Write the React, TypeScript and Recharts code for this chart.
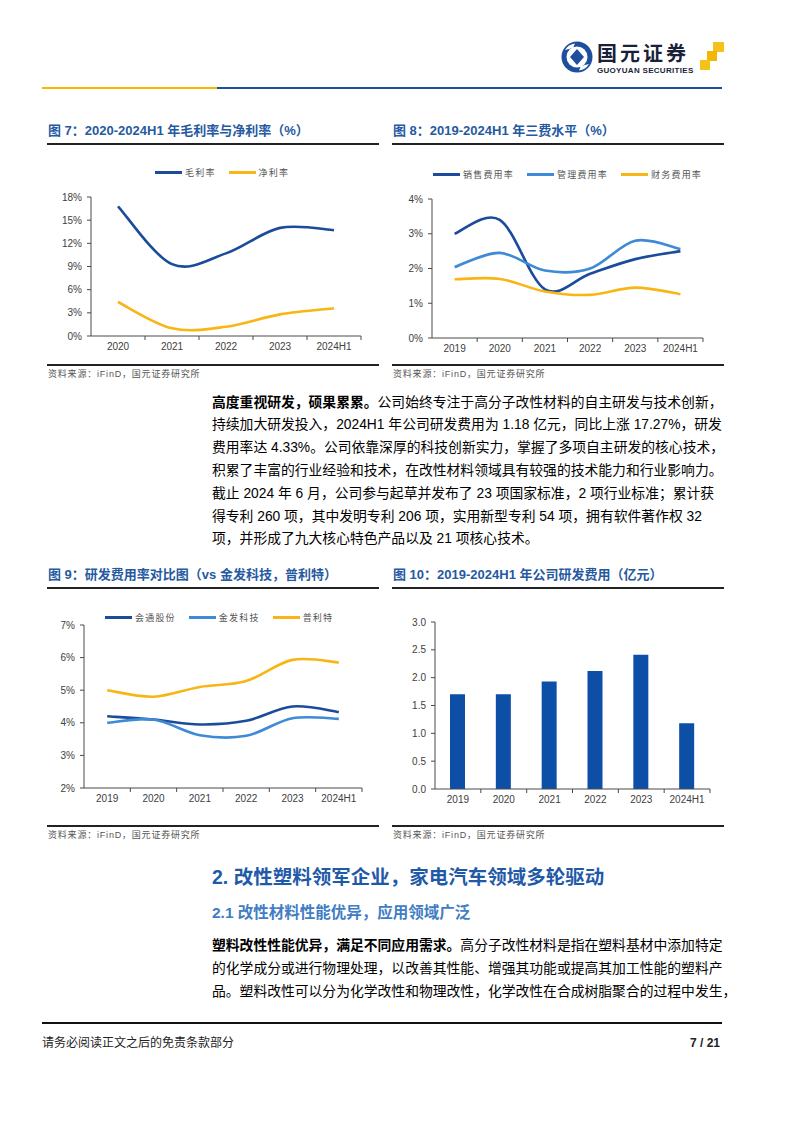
import { Bar, BarChart, Line, LineChart, XAxis, YAxis } from "recharts";

// 图7 毛利率 / 净利率
const MARGIN_YEARS = ["2020", "2021", "2022", "2023", "2024H1"];
const GROSS_MARGIN = [16.8, 9.3, 10.7, 14.0, 13.7];
const NET_MARGIN = [4.4, 1.0, 1.2, 2.8, 3.6];
const MARGIN_NAMES = ["毛利率", "净利率"];
const MARGIN_TICKS = [0, 3, 6, 9, 12, 15, 18];

// 图8 三费
const YEARS = ["2019", "2020", "2021", "2022", "2023", "2024H1"];
const SALES_RATE = [3.0, 3.4, 1.4, 1.85, 2.27, 2.5];
const ADMIN_RATE = [2.04, 2.45, 1.94, 2.0, 2.8, 2.56];
const FINANCE_RATE = [1.69, 1.7, 1.34, 1.24, 1.45, 1.26];
const FEE_NAMES = ["销售费用率", "管理费用率", "财务费用率"];
const FEE_TICKS = [0, 1, 2, 3, 4];

// 图9 研发费用率对比
const HUITONG_RD = [4.2, 4.1, 3.95, 4.06, 4.5, 4.33];
const KINGFA_RD = [4.0, 4.1, 3.62, 3.6, 4.14, 4.12];
const PRET_RD = [5.0, 4.8, 5.1, 5.28, 5.93, 5.85];
const PEER_NAMES = ["会通股份", "金发科技", "普利特"];
const RD_RATE_TICKS = [2, 3, 4, 5, 6, 7];

// 图10 研发费用（亿元）
const RD_EXPENSE = [1.7, 1.7, 1.93, 2.12, 2.41, 1.18];
const RD_EXPENSE_TICKS = [0, 0.5, 1, 1.5, 2, 2.5, 3];

const DARK = "#1b4c9c";
const MID = "#3d8ad6";
const GOLD = "#f7b614";
const BAR = "#0d4ea6";
const AXIS = "#4a4a4a";
const TITLE = "#26599f";
const Y_W = 40;
const FONT = '"Liberation Sans", Arial, "Noto Sans CJK SC", sans-serif';

// Excel-like smoothed line (Catmull-Rom through the points)
function smoothCurve(context: any) {
  let pts: number[][] = [];
  return {
    areaStart() {},
    areaEnd() {},
    lineStart() {
      pts = [];
    },
    point(x: number, y: number) {
      pts.push([+x, +y]);
    },
    lineEnd() {
      const n = pts.length;
      if (!n) return;
      context.moveTo(pts[0][0], pts[0][1]);
      for (let i = 0; i < n - 1; i++) {
        const p0 = pts[Math.max(i - 1, 0)];
        const p1 = pts[i];
        const p2 = pts[i + 1];
        const p3 = pts[Math.min(i + 2, n - 1)];
        context.bezierCurveTo(
          p1[0] + (p2[0] - p0[0]) / 6,
          p1[1] + (p2[1] - p0[1]) / 6,
          p2[0] - (p3[0] - p1[0]) / 6,
          p2[1] - (p3[1] - p1[1]) / 6,
          p2[0],
          p2[1]
        );
      }
    },
  };
}

function BandTick({ x, y, payload, band }: any) {
  return (
    <g>
      <line x1={x + band / 2} x2={x + band / 2} y1={y} y2={y + 4} stroke={AXIS} />
      <text x={x} y={y + 7} dy="0.71em" textAnchor="middle" fontSize={10} fill="#404040" fontFamily={FONT}>
        {payload.value}
      </text>
    </g>
  );
}

type Box = { left: number; top: number; width: number; height: number; margin: { top: number; right: number; bottom: number; left: number } };
type Series = { name: string; values: number[]; color: string };

function LegendRow({ items, left, top }: { items: Series[]; left: number; top: number }) {
  return (
    <div style={{ position: "absolute", left, top: top - 7, height: 14, display: "flex", alignItems: "center", gap: 13 }}>
      {items.map((s) => (
        <div key={s.name} style={{ display: "flex", alignItems: "center" }}>
          <span style={{ width: 27, height: 3, background: s.color, marginRight: 3 }} />
          <span style={{ fontSize: 9, color: "#555", letterSpacing: 1.2, fontFamily: FONT }}>{s.name}</span>
        </div>
      ))}
    </div>
  );
}

function TrendChart({ box, categories, series, domain, ticks, format }: { box: Box; categories: string[]; series: Series[]; domain: number[]; ticks: number[]; format: (v: number) => string }) {
  const band = (box.width - box.margin.left - box.margin.right - Y_W) / categories.length;
  const data = categories.map((cat, i) => {
    const row: Record<string, string | number> = { cat };
    series.forEach((s, k) => (row["s" + k] = s.values[i]));
    return row;
  });
  return (
    <div style={{ position: "absolute", left: box.left, top: box.top }}>
      <LineChart width={box.width} height={box.height} data={data} margin={box.margin}>
        <XAxis
          dataKey="cat"
          padding={{ left: band / 2, right: band / 2 }}
          interval={0}
          height={20}
          tickSize={0}
          tickMargin={0}
          axisLine={{ stroke: AXIS }}
          tickLine={false}
          tick={(p: any) => <BandTick x={p.x} y={p.y} payload={p.payload} band={band} />}
        />
        <YAxis
          width={Y_W}
          domain={domain}
          ticks={ticks}
          interval={0}
          tickFormatter={format}
          tickSize={4}
          tickMargin={5}
          axisLine={{ stroke: AXIS }}
          tickLine={{ stroke: AXIS }}
          tick={{ fontSize: 10, fill: "#404040", fontFamily: FONT }}
        />
        {series.map((s, k) => (
          <Line key={s.name} dataKey={"s" + k} type={smoothCurve as any} stroke={s.color} strokeWidth={2.6} dot={false} activeDot={false} isAnimationActive={false} />
        ))}
      </LineChart>
    </div>
  );
}

function RdBarChart() {
  const box: Box = { left: 385, top: 590, width: 340, height: 235, margin: { top: 32, right: 15, bottom: 16, left: 10 } };
  const band = (box.width - box.margin.left - box.margin.right - Y_W) / YEARS.length;
  const data = YEARS.map((year, i) => ({ year, value: RD_EXPENSE[i] }));
  return (
    <div style={{ position: "absolute", left: box.left, top: box.top }}>
      <BarChart width={box.width} height={box.height} data={data} margin={box.margin}>
        <XAxis
          dataKey="year"
          interval={0}
          height={20}
          tickSize={0}
          tickMargin={0}
          axisLine={{ stroke: AXIS }}
          tickLine={false}
          tick={(p: any) => <BandTick x={p.x} y={p.y} payload={p.payload} band={band} />}
        />
        <YAxis
          width={Y_W}
          domain={[0, 3]}
          ticks={RD_EXPENSE_TICKS}
          interval={0}
          tickFormatter={(v: number) => v.toFixed(1)}
          tickSize={4}
          tickMargin={5}
          axisLine={{ stroke: AXIS }}
          tickLine={{ stroke: AXIS }}
          tick={{ fontSize: 10, fill: "#404040", fontFamily: FONT }}
        />
        <Bar dataKey="value" fill={BAR} barSize={15} isAnimationActive={false} />
      </BarChart>
    </div>
  );
}

function FigTitle({ text, left, top, width }: { text: string; left: number; top: number; width: number }) {
  return (
    <>
      <div style={{ position: "absolute", left, top, fontSize: 13, fontWeight: 700, color: TITLE, fontFamily: FONT, lineHeight: "18px", whiteSpace: "nowrap" }}>
        {text}
      </div>
      <div style={{ position: "absolute", left: left - 1, top: top + 21, width, height: 1.5, background: "#222" }} />
    </>
  );
}

function Source({ left, top, width }: { left: number; top: number; width: number }) {
  return (
    <>
      <div style={{ position: "absolute", left: left - 1, top, width, height: 1.5, background: "#222" }} />
      <div style={{ position: "absolute", left, top: top + 4, fontSize: 9, color: "#555", letterSpacing: 0.8, fontFamily: FONT, lineHeight: "12px", whiteSpace: "nowrap" }}>
        资料来源：iFinD，国元证券研究所
      </div>
    </>
  );
}

const PARA1 = [
  "持续加大研发投入，2024H1 年公司研发费用为 1.18 亿元，同比上涨 17.27%，研发",
  "费用率达 4.33%。公司依靠深厚的科技创新实力，掌握了多项自主研发的核心技术，",
  "积累了丰富的行业经验和技术，在改性材料领域具有较强的技术能力和行业影响力。",
  "截止 2024 年 6 月，公司参与起草并发布了 23 项国家标准，2 项行业标准；累计获",
  "得专利 260 项，其中发明专利 206 项，实用新型专利 54 项，拥有软件著作权 32",
];
const PARA2 = [
  "的化学成分或进行物理处理，以改善其性能、增强其功能或提高其加工性能的塑料产",
  "品。塑料改性可以分为化学改性和物理改性，化学改性在合成树脂聚合的过程中发生，",
];

const lineStyle = { height: 22.8, lineHeight: "22.8px", whiteSpace: "nowrap" as const };

export default function App() {
  const marginSeries: Series[] = [
    { name: MARGIN_NAMES[0], values: GROSS_MARGIN, color: DARK },
    { name: MARGIN_NAMES[1], values: NET_MARGIN, color: GOLD },
  ];
  const feeSeries: Series[] = [
    { name: FEE_NAMES[0], values: SALES_RATE, color: DARK },
    { name: FEE_NAMES[1], values: ADMIN_RATE, color: MID },
    { name: FEE_NAMES[2], values: FINANCE_RATE, color: GOLD },
  ];
  const peerSeries: Series[] = [
    { name: PEER_NAMES[0], values: HUITONG_RD, color: DARK },
    { name: PEER_NAMES[1], values: KINGFA_RD, color: MID },
    { name: PEER_NAMES[2], values: PRET_RD, color: GOLD },
  ];
  const pct = (v: number) => `${v}%`;

  return (
    <div style={{ position: "absolute", left: 0, top: 0, width: 802, height: 1133, background: "#fff", fontFamily: FONT, overflow: "hidden" }}>
      {/* header logo */}
      <svg style={{ position: "absolute", left: 560, top: 40 }} width={34} height={34} viewBox="0 0 34 34">
        <circle cx={17} cy={17} r={15.5} fill="#1d4f9f" />
        <circle cx={17} cy={17} r={10.5} fill="#fff" />
        <path d="M17 9 L24 17 L17 25 L10 17 Z" fill="#1d4f9f" />
        <path d="M5 10 A13 13 0 0 1 15 3.5 L13 8 Z" fill="#fff" />
        <path d="M29 24 A13 13 0 0 1 19 30.5 L21 26 Z" fill="#fff" />
      </svg>
      <div style={{ position: "absolute", left: 597, top: 42, fontSize: 20, fontWeight: 700, color: "#1a1f3a", letterSpacing: 3, lineHeight: "22px", fontFamily: '"Noto Sans CJK SC", sans-serif', whiteSpace: "nowrap" }}>
        国元证券
      </div>
      <div style={{ position: "absolute", left: 597, top: 66, fontSize: 8, fontWeight: 700, color: "#1a1f3a", lineHeight: "9px", letterSpacing: 0.3, whiteSpace: "nowrap" }}>
        GUOYUAN SECURITIES
      </div>
      <svg style={{ position: "absolute", left: 698, top: 40 }} width={28} height={32}>
        <rect x={15} y={2} width={11} height={10} fill="#f5c21b" />
        <rect x={9} y={11} width={10} height={10} fill="#f2b705" />
        <rect x={2} y={20} width={10} height={10} fill="#f5c21b" />
      </svg>
      <div style={{ position: "absolute", left: 42, top: 87, width: 175, height: 2, background: "#f5b800" }} />
      <div style={{ position: "absolute", left: 217, top: 87, width: 505, height: 2, background: "#1d4f9f" }} />

      {/* figure 7 */}
      <FigTitle text="图 7：2020-2024H1 年毛利率与净利率（%）" left={48} top={122} width={332} />
      <LegendRow items={marginSeries} left={155} top={172} />
      <TrendChart
        box={{ left: 40, top: 150, width: 340, height: 215, margin: { top: 47, right: 19, bottom: 9, left: 11 } }}
        categories={MARGIN_YEARS}
        series={marginSeries}
        domain={[0, 18]}
        ticks={MARGIN_TICKS}
        format={pct}
      />
      <Source left={48} top={364} width={332} />

      {/* figure 8 */}
      <FigTitle text="图 8：2019-2024H1 年三费水平（%）" left={393} top={122} width={332} />
      <LegendRow items={feeSeries} left={433} top={174} />
      <TrendChart
        box={{ left: 385, top: 150, width: 340, height: 215, margin: { top: 49, right: 22, bottom: 7, left: 7 } }}
        categories={YEARS}
        series={feeSeries}
        domain={[0, 4]}
        ticks={FEE_TICKS}
        format={pct}
      />
      <Source left={393} top={364} width={332} />

      {/* paragraph 1 */}
      <div style={{ position: "absolute", left: 212, top: 391.6, width: 520, fontSize: 13.8, color: "#000" }}>
        <div style={lineStyle}>
          <b>高度重视研发，硕果累累。</b>公司始终专注于高分子改性材料的自主研发与技术创新，
        </div>
        {PARA1.map((t) => (
          <div key={t} style={lineStyle}>
            {t}
          </div>
        ))}
        <div style={lineStyle}>项，并形成了九大核心特色产品以及 21 项核心技术。</div>
      </div>

      {/* figure 9 */}
      <FigTitle text="图 9：研发费用率对比图（vs 金发科技，普利特）" left={48} top={566} width={332} />
      <LegendRow items={peerSeries} left={105} top={617} />
      <TrendChart
        box={{ left: 40, top: 590, width: 340, height: 235, margin: { top: 35, right: 18, bottom: 17, left: 4 } }}
        categories={YEARS}
        series={peerSeries}
        domain={[2, 7]}
        ticks={RD_RATE_TICKS}
        format={pct}
      />
      <Source left={48} top={825} width={332} />

      {/* figure 10 */}
      <FigTitle text="图 10：2019-2024H1 年公司研发费用（亿元）" left={393} top={566} width={332} />
      <RdBarChart />
      <Source left={393} top={825} width={332} />

      {/* section headings */}
      <div style={{ position: "absolute", left: 212, top: 864, fontSize: 19.5, fontWeight: 700, color: "#1f5aa8", lineHeight: "26px", whiteSpace: "nowrap" }}>
        2. 改性塑料领军企业，家电汽车领域多轮驱动
      </div>
      <div style={{ position: "absolute", left: 212, top: 902, fontSize: 15.5, fontWeight: 700, color: "#3f7dc4", lineHeight: "22px", whiteSpace: "nowrap" }}>
        2.1 改性材料性能优异，应用领域广泛
      </div>

      {/* paragraph 2 */}
      <div style={{ position: "absolute", left: 212, top: 935, width: 520, fontSize: 13.8, color: "#000" }}>
        <div style={lineStyle}>
          <b>塑料改性性能优异，满足不同应用需求。</b>高分子改性材料是指在塑料基材中添加特定
        </div>
        {PARA2.map((t) => (
          <div key={t} style={lineStyle}>
            {t}
          </div>
        ))}
      </div>

      {/* footer */}
      <div style={{ position: "absolute", left: 42, top: 1022, width: 680, height: 2, background: "#111" }} />
      <div style={{ position: "absolute", left: 42, top: 1035, fontSize: 12, color: "#222", lineHeight: "16px" }}>请务必阅读正文之后的免责条款部分</div>
      <div style={{ position: "absolute", left: 660, top: 1035, width: 60, textAlign: "right", fontSize: 12, fontWeight: 700, color: "#222", lineHeight: "16px" }}>
        7 / 21
      </div>
    </div>
  );
}
